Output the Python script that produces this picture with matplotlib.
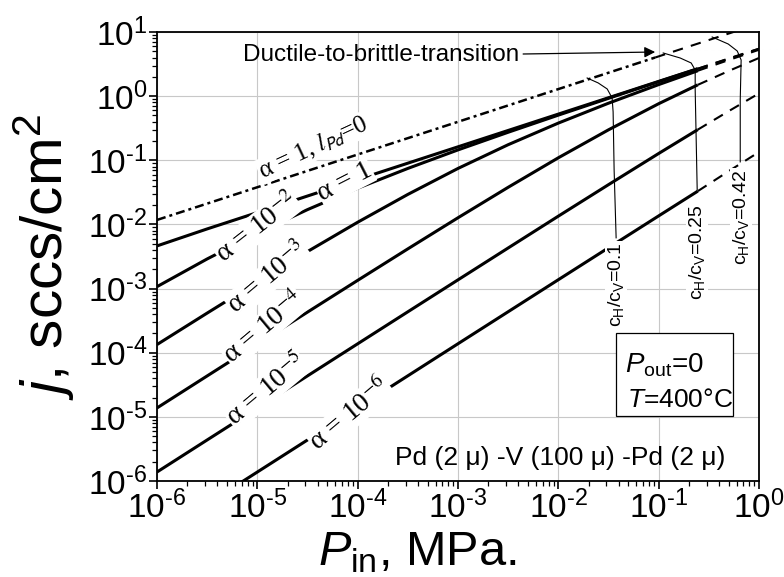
import numpy as np
import matplotlib
matplotlib.use("Agg")
import matplotlib.pyplot as plt
from matplotlib.patches import Rectangle

plt.rcParams['font.family'] = ['Liberation Sans', 'DejaVu Sans']
plt.rcParams['mathtext.fontset'] = 'custom'
plt.rcParams['mathtext.rm'] = 'Liberation Sans'
plt.rcParams['mathtext.sf'] = 'Liberation Sans'
plt.rcParams['mathtext.it'] = 'Liberation Sans:italic'
plt.rcParams['mathtext.bf'] = 'Liberation Sans:bold'

# log10 of P (MPa) where the curves were read
logp_solid = [-6, -5.5, -5, -4.5, -4, -3.5, -3, -2.5, -2, -1.5, -1, -0.61]
logp_dash = [-0.61, -0.3, 0]

# log10 of j (sccs/cm2), solid part up to c_H/c_V = 0.25, then dashed part
alpha_names = ['1', '1e-2', '1e-3', '1e-4', '1e-5', '1e-6']
logj_solid = {
    '1':    [-2.335, -2.07, -1.815, -1.557, -1.30, -1.045, -0.79, -0.535, -0.28, -0.025, 0.23, 0.428],
    '1e-2': [-2.970, -2.538, -2.137, -1.769, -1.435, -1.127, -0.838, -0.563, -0.296, -0.034, 0.225, 0.426],
    '1e-3': [-3.873, -3.382, -2.897, -2.423, -1.966, -1.532, -1.127, -0.757, -0.420, -0.110, 0.180, 0.396],
    '1e-4': [-4.861, -4.362, -3.864, -3.367, -2.872, -2.381, -1.896, -1.421, -0.961, -0.525, -0.118, 0.176],
    '1e-5': [-5.860, -5.360, -4.861, -4.361, -3.861, -3.362, -2.864, -2.367, -1.871, -1.380, -0.894, -0.522],
    '1e-6': [-6.86, -6.36, -5.86, -5.36, -4.86, -4.36, -3.86, -3.361, -2.862, -2.364, -1.867, -1.481],
}
logj_dash = {
    '1':    [0.428, 0.587, 0.74],
    '1e-2': [0.426, 0.585, 0.738],
    '1e-3': [0.396, 0.564, 0.723],
    '1e-4': [0.176, 0.394, 0.595],
    '1e-5': [-0.522, -0.232, 0.043],
    '1e-6': [-1.481, -1.168, -0.871],
}

# alpha = 1, l_Pd = 0 (dash-dot until ductile-to-brittle transition, then dashed)
logp_nopd = [-6, -5, -4, -3, -2, -1.035]
logj_nopd = [-1.93, -1.42, -0.91, -0.40, 0.11, 0.602]
logp_nopd_dash = [-1.035, 0]
logj_nopd_dash = [0.602, 1.13]

# c_H/c_V iso-lines
ratio_names = ['0.1', '0.25', '0.42']
ratio_logp = {
    '0.1':  [-1.713, -1.603, -1.513, -1.464, -1.454, -1.444, -1.424],
    '0.25': [-0.955, -0.786, -0.676, -0.636, -0.636, -0.616],
    '0.42': [-0.467, -0.307, -0.217, -0.178, -0.187, -0.187],
}
ratio_logj = {
    '0.1':  [0.283, 0.206, 0.112, -0.028, -0.246, -1.150, -2.209],
    '0.25': [0.673, 0.595, 0.517, 0.408, 0.097, -1.461],
    '0.42': [0.922, 0.813, 0.704, 0.564, -0.059, -1.025],
}


def p(v):
    return 10.0 ** np.asarray(v)


fig = plt.figure(figsize=(7.84, 5.77), dpi=100)
ax = fig.add_axes([157 / 784, 1 - 481 / 577, 602 / 784, 449 / 577])
ax.set_xscale('log')
ax.set_yscale('log')
ax.set_xlim(1e-6, 1)
ax.set_ylim(1e-6, 10)

ax.grid(True, which='major', color='#c8c8c8', lw=0.8)
ax.set_axisbelow(True)

for name in alpha_names:
    ax.plot(p(logp_solid), p(logj_solid[name]), color='black', lw=2.2,
            solid_capstyle='butt')
    ax.plot(p(logp_dash), p(logj_dash[name]), color='black', lw=1.5,
            linestyle=(0, (5, 4)))

ax.plot(p(logp_nopd), p(logj_nopd), color='black', lw=1.8,
        linestyle=(0, (3.6, 1.6, 1.2, 1.6)))
ax.plot(p(logp_nopd_dash), p(logj_nopd_dash), color='black', lw=1.5,
        linestyle=(0, (5, 4)))

for name in ratio_names:
    ax.plot(p(ratio_logp[name]), p(ratio_logj[name]), color='black', lw=0.8)

# curve labels (Times-like, upright alpha)
lab = dict(ha='center', va='center', fontsize=20, family='Liberation Serif',
           math_fontfamily='stix',
           bbox=dict(boxstyle='square,pad=0.02', fc='white', ec='none'))
ax.text(p(-4.445), p(-0.807), r'α = 1, $l_{\mathsf{Pd}}$=0',
        rotation=25, **{**lab, 'fontsize': 18})
ax.text(p(-4.126), p(-1.336), 'α = 1', rotation=27, **lab)
ax.text(p(-5.003), p(-2.053), r'α = 10$^{-2}$', rotation=38, **lab)
ax.text(p(-4.893), p(-2.832), r'α = 10$^{-3}$', rotation=40, **lab)
ax.text(p(-4.933), p(-3.610), r'α = 10$^{-4}$', rotation=40, **lab)
ax.text(p(-4.913), p(-4.576), r'α = 10$^{-5}$', rotation=40, **lab)
ax.text(p(-4.076), p(-4.960), r'α = 10$^{-6}$', rotation=40, **lab)

rlab = dict(ha='center', va='center', rotation=90, fontsize=14,
            bbox=dict(boxstyle='square,pad=0.05', fc='white', ec='none'))
ax.text(p(-1.424), p(-2.94), r'c$_\mathrm{H}$/c$_\mathrm{V}$=0.1', **rlab)
ax.text(p(-0.616), p(-2.43), r'c$_\mathrm{H}$/c$_\mathrm{V}$=0.25', **rlab)
ax.text(p(-0.178), p(-1.88), r'c$_\mathrm{H}$/c$_\mathrm{V}$=0.42', **rlab)

ax.text(0.1429, 0.9488, 'Ductile-to-brittle-transition', transform=ax.transAxes,
        ha='left', va='center', fontsize=17.5)
ax.annotate('', xy=(p(-1.035), p(0.688)), xytext=(p(-2.351), p(0.657)),
            arrowprops=dict(arrowstyle='-|>', color='black', lw=0.9,
                            mutation_scale=16, shrinkA=0, shrinkB=0))

ax.add_patch(Rectangle((0.7625, 0.1448), 0.1943, 0.1848, transform=ax.transAxes,
                       fc='white', ec='black', lw=0.9, zorder=5))
ax.text(0.777, 0.258, r'$P_\mathrm{out}$=0', transform=ax.transAxes,
        ha='left', va='center', fontsize=20, zorder=6)
ax.text(0.780, 0.180, r'$T$=400°C', transform=ax.transAxes,
        ha='left', va='center', fontsize=19, zorder=6)

ax.text(0.395, 0.051, 'Pd (2 μ) -V (100 μ) -Pd (2 μ)', transform=ax.transAxes,
        ha='left', va='center', fontsize=19)

# axes styling
for s in ['top', 'right', 'bottom', 'left']:
    ax.spines[s].set_linewidth(1.3)
ax.tick_params(which='major', direction='out', length=6, width=1.2,
               labelsize=24, top=False, right=False, pad=1)
ax.tick_params(which='minor', direction='out', length=3.5, width=0.9,
               top=False, right=False)
xt = [1e-6, 1e-5, 1e-4, 1e-3, 1e-2, 1e-1, 1]
yt = [1e-6, 1e-5, 1e-4, 1e-3, 1e-2, 1e-1, 1, 10]


def dec_label(v):
    e = round(np.log10(v))
    s = str(e).replace('-', '\u2010')
    return r'$\mathsf{10^{%s}}$' % s


ax.set_xticks(xt)
ax.set_xticklabels([dec_label(v) for v in xt])
ax.set_yticks(yt)
ax.set_yticklabels([dec_label(v) for v in yt])
ax.xaxis.set_minor_locator(matplotlib.ticker.LogLocator(base=10, subs=np.arange(2, 10), numticks=20))
ax.yaxis.set_minor_locator(matplotlib.ticker.LogLocator(base=10, subs=np.arange(2, 10), numticks=20))
ax.xaxis.set_minor_formatter(matplotlib.ticker.NullFormatter())
ax.yaxis.set_minor_formatter(matplotlib.ticker.NullFormatter())

fig.text(318 / 784, 1 - 565 / 577, r'$P_\mathrm{in}$, MPa.', fontsize=35,
         ha='left', va='baseline')
fig.text(44 / 784, 1 - 257 / 577, r'$j$, sccs/cm$^2$', fontsize=42,
         rotation=90, ha='center', va='center')

fig.savefig('out.png', dpi=100)
